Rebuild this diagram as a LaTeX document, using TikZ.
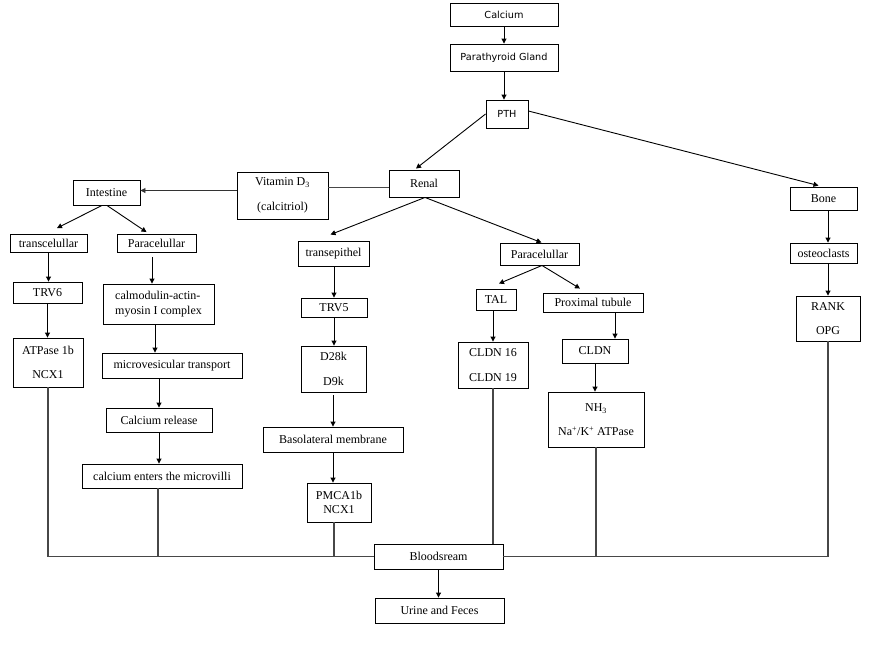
\documentclass[tikz,border=0pt]{standalone}
\usepackage{fontspec}
\setmainfont{Liberation Serif}
\newfontfamily\topfont{DejaVu Sans}
\usetikzlibrary{arrows.meta,calc}
\begin{document}
\begin{tikzpicture}[x=1pt,y=-1pt,
  box/.style={draw, line width=0.9pt, inner sep=0pt, align=center, font=\fontsize{12}{14.5}\selectfont},
  sbox/.style={box, font=\topfont\fontsize{9.7}{12}\selectfont},
  arr/.style={-{Triangle[length=5pt,width=5pt]}, line width=0.9pt},
  ln/.style={line width=1.1pt, draw=black!72}]
\useasboundingbox[fill=white] (0,0) rectangle (876,649);
% top
\node[sbox, minimum width=108pt, minimum height=23pt] (calcium) at (504,14.5) {Calcium};
\node[sbox, minimum width=108pt, minimum height=27pt] (para) at (504,57.5) {Parathyroid Gland};
\node[sbox, minimum width=42pt, minimum height=28pt] (pth) at (507,114) {PTH};
% middle row
\node[box, minimum width=70pt, minimum height=27pt] (renal) at (424,183.5) {Renal};
\node[box, minimum width=91pt, minimum height=47pt] (vitd) at (282.5,195.5) {Vitamin D\textsubscript{3}\\[10pt](calcitriol)};
\node[box, minimum width=67pt, minimum height=25pt] (intestine) at (106.5,192.5) {Intestine};
\node[box, minimum width=67pt, minimum height=23pt] (bone) at (823.5,198.5) {Bone};
% intestine branch
\node[box, minimum width=77pt, minimum height=18pt] (transc) at (48.5,243.5) {transcelullar};
\node[box, minimum width=79pt, minimum height=18pt] (paraI) at (156.5,243.5) {Paracelullar};
\node[box, minimum width=69pt, minimum height=21pt] (trv6) at (47.5,292.5) {TRV6};
\node[box, minimum width=111pt, minimum height=40pt, align=left] (calm) at (158.5,304) {calmodulin-actin-\\myosin I complex};
\node[box, minimum width=70pt, minimum height=49pt] (atp) at (48,362.5) {ATPase 1b\\[10pt]NCX1};
\node[box, minimum width=140pt, minimum height=25pt] (micro) at (172,365.5) {microvesicular transport};
\node[box, minimum width=106pt, minimum height=24pt] (crel) at (159,420) {Calcium release};
\node[box, minimum width=160pt, minimum height=24pt] (cent) at (162,476) {calcium enters the microvilli};
% renal branch
\node[box, minimum width=71pt, minimum height=25pt] (transe) at (333.5,253.5) {transepithel};
\node[box, minimum width=66pt, minimum height=19pt] (trv5) at (334,307.5) {TRV5};
\node[box, minimum width=65pt, minimum height=46pt] (d28) at (333.5,369) {D28k\\[10pt]D9k};
\node[box, minimum width=140pt, minimum height=25pt] (baso) at (333,439.5) {Basolateral membrane};
\node[box, minimum width=64pt, minimum height=39pt] (pmca) at (339,502.5) {PMCA1b\\NCX1};
\node[box, minimum width=79pt, minimum height=22pt] (paraR) at (539.5,254) {Paracelullar};
\node[box, minimum width=40pt, minimum height=21pt] (tal) at (496,299.5) {TAL};
\node[box, minimum width=100pt, minimum height=19pt] (prox) at (593,302.5) {Proximal tubule};
\node[box, minimum width=70pt, minimum height=46pt] (cldn16) at (493,365) {CLDN 16\\[10pt]CLDN 19};
\node[box, minimum width=66pt, minimum height=24pt] (cldn) at (595,351) {CLDN};
\node[box, minimum width=96pt, minimum height=55pt] (nh3) at (596,419.5) {NH\textsubscript{3}\\[9.5pt]Na\textsuperscript{+}/K\textsuperscript{+} ATPase};
% bone branch
\node[box, minimum width=67pt, minimum height=20pt] (osteo) at (823.5,253) {osteoclasts};
\node[box, minimum width=64pt, minimum height=45pt] (rank) at (828,318.5) {RANK\\[10pt]OPG};
% bottom
\node[box, minimum width=129pt, minimum height=25pt] (blood) at (438.5,556.5) {Bloodsream};
\node[box, minimum width=129pt, minimum height=25pt] (urine) at (439.5,610.5) {Urine and Feces};

% top connectors
\draw[arr] (calcium) -- (para);
\draw[arr] (para.south) -- (para.south |- pth.north);
\draw[arr] (pth.west) -- ($(renal.north)+(-8,-1)$);
\draw[arr] ($(pth.east)+(0,-3)$) -- ($(bone.north)+(-5,-1)$);
\coordinate (rv) at ($(renal.west)+(0,4)$);
\draw[ln] (rv) -- (rv -| vitd.east);
\coordinate (iv) at ($(intestine.east)+(0,-2)$);
\draw[arr, draw=black!80] (iv -| vitd.west) -- (iv);
% intestine
\draw[arr] ($(intestine.south)+(-4.5,0)$) -- ($(transc.north)+(8.5,-6)$);
\draw[arr] ($(intestine.south)+(0.5,0)$) -- ($(paraI.north)+(-10,-2)$);
\draw[arr] (transc.south) -- (transc.south |- trv6.north);
\draw[arr] (trv6.south) -- (trv6.south |- atp.north);
\coordinate (c1) at ($(paraI.south)+(-4.5,4)$);
\draw[arr] (c1) -- (c1 |- calm.north);
\coordinate (c3) at ($(calm.south)+(-3.5,0)$);
\draw[arr] (c3) -- (c3 |- micro.north);
\draw[arr] (crel.north |- micro.south) -- (crel.north);
\draw[arr] (crel.south) -- (crel.south |- cent.north);
\draw[ln] (atp.south) |- (blood.west);
\coordinate (c4) at ($(cent.south)+(-4,0)$);
\draw[ln] (c4) -- (c4 |- blood.west);
% renal
\draw[arr] ($(renal.south)+(1,0)$) -- ($(transe.north)+(-3,-6)$);
\draw[arr] ($(renal.south)+(1,0)$) -- ($(paraR.north)+(2,0)$);
\draw[arr] (trv5.north |- transe.south) -- (trv5.north);
\draw[arr] (trv5.south) -- (trv5.south |- d28.north);
\coordinate (c5) at ($(baso.north |- d28.south)+(0,3)$);
\draw[arr] (c5) -- (baso.north);
\draw[arr] (baso.south) -- (baso.south |- pmca.north);
\coordinate (c6) at ($(pmca.south)+(-5,0)$);
\draw[ln] (c6) -- (c6 |- blood.west);
\draw[arr] ($(paraR.south)+(2.5,0)$) -- ($(tal.north)+(3,-5)$);
\draw[arr] ($(paraR.south)+(2.5,0)$) -- ($(prox.north)+(-13,-4)$);
\draw[arr] (cldn16.north |- tal.south) -- (cldn16.north);
\coordinate (c2) at ($(prox.south)+(22,0)$);
\draw[arr] (c2) -- (c2 |- cldn.north);
\draw[arr] (cldn.south) -- (cldn.south |- nh3.north);
\draw[ln] (cldn16.south) -- (cldn16.south |- blood.north);
\draw[ln] (nh3.south) |- (blood.east);
% bone
\draw[arr] (bone.south -| rank.north) -- (osteo.north -| rank.north);
\draw[arr] (osteo.south -| rank.north) -- (rank.north);
\draw[ln] (rank.south) |- (blood.east);
% bottom
\draw[arr] (blood.south) -- (blood.south |- urine.north);
\end{tikzpicture}
\end{document}
